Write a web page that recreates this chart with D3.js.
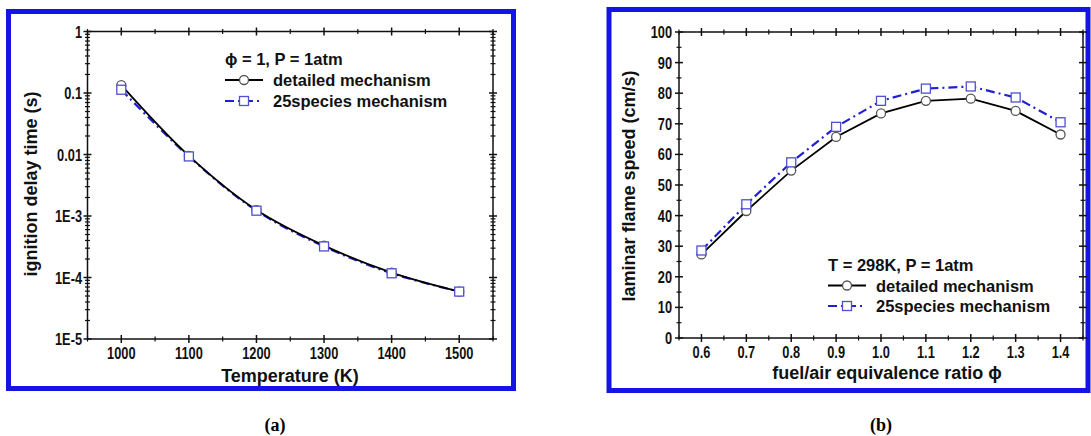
<!DOCTYPE html>
<html>
<head>
<meta charset="utf-8">
<script src="https://cdn.jsdelivr.net/npm/d3@7"></script>
<style>
  body { margin: 0; background: #fff; }
  svg { display: block; font-family: "Liberation Sans", Arial, sans-serif; }
  .tick-label { font-size: 16px; font-weight: bold; fill: #111; }
  .axis-title { font-size: 18px; font-weight: bold; fill: #111; }
  .legend { font-size: 16.5px; font-weight: bold; fill: #111; }
  .caption { font-family: "Liberation Serif", "Times New Roman", serif; font-size: 18px; font-weight: bold; }
</style>
</head>
<body>
<svg width="1091" height="436"></svg>
<script>
// (a) ignition delay time vs temperature
const tempK = [1000, 1100, 1200, 1300, 1400, 1500];
const idtDetailed = [0.134, 0.0095, 0.00125, 3.3e-4, 1.2e-4, 5.9e-5];
const idtReduced = [0.113, 0.0093, 0.00122, 3.2e-4, 1.17e-4, 5.9e-5];
const tempTicks = [1000, 1100, 1200, 1300, 1400, 1500];
const idtTicks = [1, 0.1, 0.01, 1e-3, 1e-4, 1e-5];
const idtTickLabels = ['1', '0.1', '0.01', '1E-3', '1E-4', '1E-5'];

// (b) laminar flame speed vs equivalence ratio
const phi = [0.6, 0.7, 0.8, 0.9, 1.0, 1.1, 1.2, 1.3, 1.4];
const slDetailed = [27.3, 41.5, 54.7, 65.7, 73.4, 77.5, 78.2, 74.2, 66.5];
const slReduced = [28.6, 43.7, 57.4, 69.0, 77.5, 81.5, 82.2, 78.6, 70.5];
const phiTicks = [0.6, 0.7, 0.8, 0.9, 1.0, 1.1, 1.2, 1.3, 1.4];
const slTicks = [0, 10, 20, 30, 40, 50, 60, 70, 80, 90, 100];

const seriesNames = ['detailed mechanism', '25species mechanism'];

const svg = d3.select('svg');
const BLUE = '#1414e6';
const LINE_BLUE = '#2020d0';

// blue frames round each panel
svg.append('rect').attr('x', 8.5).attr('y', 11.5).attr('width', 505).attr('height', 377)
  .attr('fill', 'none').attr('stroke', BLUE).attr('stroke-width', 5);
svg.append('rect').attr('x', 609).attr('y', 9.5).attr('width', 479).attr('height', 381)
  .attr('fill', 'none').attr('stroke', BLUE).attr('stroke-width', 5);

// narrow, tall tick labels like the original
function tickText(g, px, py, str, anchor) {
  g.append('g').attr('transform', `translate(${px},${py}) scale(0.8,1)`)
    .append('text').attr('class', 'tick-label').attr('text-anchor', anchor).text(str);
}

function drawFrame(g, x, y, xMajor, xMinor, yMajor, yMinor) {
  const [x0, x1] = x.range();
  const [y0, y1] = y.range();
  g.append('rect').attr('x', x0).attr('y', y1).attr('width', x1 - x0).attr('height', y0 - y1)
    .attr('fill', 'none').attr('stroke', '#111').attr('stroke-width', 1.5);
  const tick = (x1a, y1a, x2a, y2a, w) => g.append('line')
    .attr('x1', x1a).attr('y1', y1a).attr('x2', x2a).attr('y2', y2a)
    .attr('stroke', '#111').attr('stroke-width', w);
  xMajor.forEach(v => { const p = x(v); tick(p, y0 - 4, p, y0 + 4, 1.5); tick(p, y1 - 4, p, y1 + 4, 1.5); });
  xMinor.forEach(v => { const p = x(v); tick(p, y0 - 2.5, p, y0 + 2.5, 1.2); tick(p, y1 - 2.5, p, y1 + 2.5, 1.2); });
  yMajor.forEach(v => { const p = y(v); tick(x0 - 4, p, x0 + 4, p, 1.5); tick(x1 - 4, p, x1 + 4, p, 1.5); });
  yMinor.forEach(v => { const p = y(v); tick(x0 - 2.5, p, x0 + 2.5, p, 1.2); tick(x1 - 2.5, p, x1 + 2.5, p, 1.2); });
}

function drawSeries(g, x, y, xs, ys, kind, curve) {
  const pts = xs.map((v, i) => [v, ys[i]]);
  const line = d3.line().x(d => x(d[0])).y(d => y(d[1])).curve(curve);
  if (kind === 'detailed') {
    g.append('path').attr('d', line(pts)).attr('fill', 'none')
      .attr('stroke', '#000').attr('stroke-width', 1.8);
  } else {
    g.append('path').attr('d', line(pts)).attr('fill', 'none')
      .attr('stroke', LINE_BLUE).attr('stroke-width', 2.2)
      .attr('stroke-dasharray', '9,4,2,4');
  }
}

function drawMarkers(g, x, y, xs, ys, kind) {
  xs.forEach((v, i) => {
    if (kind === 'detailed') {
      g.append('circle').attr('cx', x(v)).attr('cy', y(ys[i])).attr('r', 4.5)
        .attr('fill', '#fff').attr('stroke', '#555').attr('stroke-width', 1.3);
    } else {
      g.append('rect').attr('x', x(v) - 4.5).attr('y', y(ys[i]) - 4.5)
        .attr('width', 9).attr('height', 9)
        .attr('fill', '#fff').attr('stroke', '#5050d0').attr('stroke-width', 1.3);
    }
  });
}

function drawLegend(g, x0, yTitle, title, gap) {
  g.append('text').attr('class', 'legend').attr('x', x0).attr('y', yTitle + 6).text(title);
  ['detailed', 'reduced'].forEach((kind, i) => {
    const ly = yTitle + gap * (i + 1);
    if (kind === 'detailed') {
      g.append('line').attr('x1', x0).attr('x2', x0 + 38).attr('y1', ly).attr('y2', ly)
        .attr('stroke', '#000').attr('stroke-width', 1.8);
      g.append('circle').attr('cx', x0 + 19).attr('cy', ly).attr('r', 4.5)
        .attr('fill', '#fff').attr('stroke', '#555').attr('stroke-width', 1.3);
    } else {
      g.append('line').attr('x1', x0).attr('x2', x0 + 38).attr('y1', ly).attr('y2', ly)
        .attr('stroke', LINE_BLUE).attr('stroke-width', 2.2).attr('stroke-dasharray', '9,4,2,4');
      g.append('rect').attr('x', x0 + 14.5).attr('y', ly - 4.5).attr('width', 9).attr('height', 9)
        .attr('fill', '#fff').attr('stroke', '#5050d0').attr('stroke-width', 1.3);
    }
    g.append('text').attr('class', 'legend').attr('x', x0 + 48).attr('y', ly + 6).text(seriesNames[i]);
  });
}

// ---------- panel (a) ----------
{
  const g = svg.append('g');
  const x = d3.scaleLinear().domain([950, 1550]).range([87.5, 493]);
  const y = d3.scaleLog().domain([1e-5, 1]).range([339, 31.5]);
  const xMinor = d3.range(950, 1551, 50).filter(v => v % 100 !== 0);
  const yMinor = [];
  for (let e = -5; e < 0; e++) for (let m = 2; m <= 9; m++) yMinor.push(m * Math.pow(10, e));
  drawFrame(g, x, y, tempTicks, xMinor, idtTicks, yMinor);

  tempTicks.forEach(d => tickText(g, x(d), 359, d, 'middle'));
  idtTicks.forEach((d, i) => tickText(g, 82, y(d) + 6, idtTickLabels[i], 'end'));

  g.append('text').attr('class', 'axis-title').attr('x', 290).attr('y', 382)
    .attr('text-anchor', 'middle').text('Temperature (K)');
  g.append('text').attr('class', 'axis-title').attr('transform', 'translate(37,184) rotate(-90)')
    .attr('text-anchor', 'middle').text('ignition delay time (s)');

  drawSeries(g, x, y, tempK, idtReduced, 'reduced', d3.curveCatmullRom);
  drawSeries(g, x, y, tempK, idtDetailed, 'detailed', d3.curveCatmullRom);
  drawMarkers(g, x, y, tempK, idtDetailed, 'detailed');
  drawMarkers(g, x, y, tempK, idtReduced, 'reduced');

  drawLegend(g, 225, 59, '\u03d5 = 1, P = 1atm', 21);
}

// ---------- panel (b) ----------
{
  const g = svg.append('g');
  const x = d3.scaleLinear().domain([0.55, 1.45]).range([679, 1083]);
  const y = d3.scaleLinear().domain([0, 100]).range([338, 32]);
  const xMinor = d3.range(0.55, 1.46, 0.1).map(v => +v.toFixed(2));
  const yMinor = d3.range(5, 100, 10);
  drawFrame(g, x, y, phiTicks, xMinor, slTicks, yMinor);

  phiTicks.forEach(d => tickText(g, x(d), 358, d.toFixed(1), 'middle'));
  slTicks.forEach(d => tickText(g, 672, y(d) + 6, d, 'end'));

  g.append('text').attr('class', 'axis-title').attr('x', 887).attr('y', 379)
    .attr('text-anchor', 'middle').text('fuel/air equivalence ratio \u03d5');
  g.append('text').attr('class', 'axis-title').attr('transform', 'translate(635,186) rotate(-90)')
    .attr('text-anchor', 'middle').text('laminar flame speed (cm/s)');

  drawSeries(g, x, y, phi, slDetailed, 'detailed', d3.curveLinear);
  drawSeries(g, x, y, phi, slReduced, 'reduced', d3.curveLinear);
  drawMarkers(g, x, y, phi, slDetailed, 'detailed');
  drawMarkers(g, x, y, phi, slReduced, 'reduced');

  drawLegend(g, 828, 265, 'T = 298K, P = 1atm', 20.5);
}

// captions
svg.append('text').attr('class', 'caption').attr('x', 275).attr('y', 431)
  .attr('text-anchor', 'middle').text('(a)');
svg.append('text').attr('class', 'caption').attr('x', 881).attr('y', 431)
  .attr('text-anchor', 'middle').text('(b)');
</script>
</body>
</html>
